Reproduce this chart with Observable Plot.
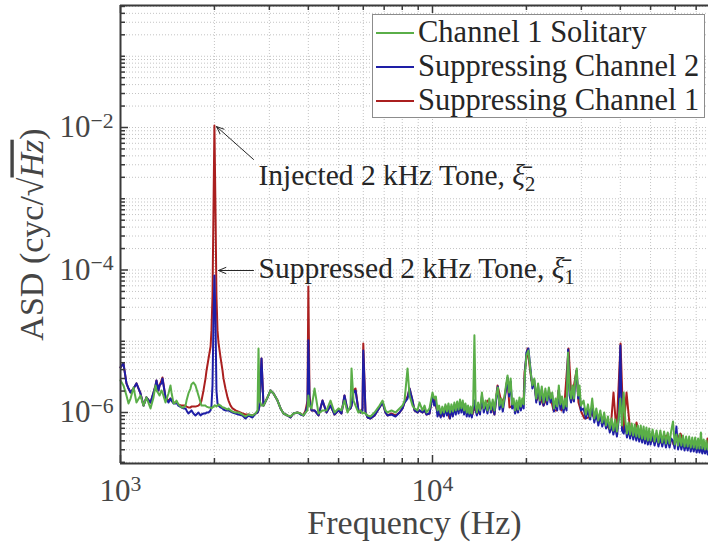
<!DOCTYPE html>
<html><head><meta charset="utf-8">
<script src="https://cdn.jsdelivr.net/npm/d3@7"></script>
<script src="https://cdn.jsdelivr.net/npm/@observablehq/plot@0.6"></script>
<style>
body{margin:0;background:#fff;}
#wrap{position:relative;width:708px;height:544px;overflow:hidden;}
#legend{position:absolute;left:372px;top:14px;width:333px;height:104px;border:1.5px solid #8c8c8c;background:#fff;box-sizing:border-box;font-family:"Liberation Serif","DejaVu Serif",serif;font-size:30.5px;color:#262626;}
.row{position:absolute;left:0;height:34px;display:flex;align-items:center;white-space:nowrap;}
.sw{width:38px;height:2px;margin-left:3px;margin-right:4px;}
</style></head>
<body><div id="wrap"><div id="legend"></div></div>
<script>
// ---------- Frequencies (Hz) ----------
// low band shared by all three traces
const freqLow = [1000,1022,1045,1061,1077,1101,1125,1159,1185,1211,
1248,1276,1295,1304,1323,1334,1353,1363,1394,1425,
1446,1457,1479,1500,1511,1533,1568,1592,1616,1628,
1651,1676,1688,1713,1739,1778,1805,1818,1845,1873,
1887,1915,1944,1957,1972,1986,2000,2016,2030,2046,
2061,2092,2123,2138,2170,2203,2219,2253,2286,2337,
2389,2460,2515,2572,2649,2708,2749,2769,2790,2831,
2873,2960,3026,3093,3186,3258,3331,3430,3507,3585,
3692,3775,3859,3917,3975,4000,4035,4095,4187,4312,
4441,4575,4711,4853,4997,5108,5223,5341,5461,5501,
5583,5666,5790,5877,5965,6000,6100,6190,6330,6520,
6765,6917,7069,7174,7390,7611,7842,8016,8136,8317,
8441,8629,8756,8951,9085,9287,9428,9567,9781];
// dense high band (Channel 1 Solitary and Suppressing Channel 2)
const freqHigh = [10000,10125,10250,10375,10500,10625,10750,10875,11000,11125,
11250,11375,11500,11625,11750,11875,12000,12125,12250,12375,
12500,12625,12750,12875,13000,13125,13250,13375,13500,13625,
13750,13875,14000,14200,14400,14600,14800,15000,15200,15400,
15600,15800,16000,16200,16400,16600,16800,17000,17200,17400,
17600,17800,18000,18200,18400,18600,18800,19000,19200,19400,
19600,19800,20000,20300,20600,20900,21200,21500,21800,22100,
22400,22700,23000,23300,23600,23900,24200,24500,24800,25100,
25400,25700,26000,26300,26600,26900,27200,27500,27800,28100,
28400,28700,29000,29300,29600,29900,30500,31000,31500,32000,
32500,33000,33500,34000,34500,35000,35500,36000,36500,37000,
37500,38000,38500,39000,39500,40000,40500,41000,41500,42000,
42500,43000,43500,44000,44500,45000,45500,46000,46500,47000,
47500,48000,48500,49000,49500,50000,50750,51500,52250,53000,
53750,54500,55250,56000,56750,57500,58250,59000,59750,60500,
61250,62000,62750,63500,64250,65000,65750,66500,67250,68000,
68750,69500,70250,71000,71750,72500,73250,74000,74750,75500,
76250,76670];
// high band for Suppressing Channel 1
const freqRedHigh = [10000,
10150,10300,10530,10770,11090,11340,11590,11940,12200,12480,
12850,13140,13430,13630,13730,13940,14360,14680,15010,15460,
15800,16160,16640,17010,17390,17650,18180,18590,19000,19580,
19720,20160,20460,20760,21230,21540,22020,22690,23200,23710,
24430,24970,25340,25910,26490,27290,27900,28510,28940,29370,
30030,30700,31620,32330,32810,33530,34290,35320,36120,37200,
38030,38880,40060,40950,41870,43110,44090,45070,46420,47460,
48520,49970,51080,52230,53800,55000,56230,57900,58790,59200,
60540,62350,63740,65170,67120,68620,70180,72270,72800,73890,
75540,76100,76670];

// ---------- ASD values (cyc/sqrt(Hz)) ----------
const solitaryLow = [2.82e-6,2.40e-6,1.73e-6,1.34e-6,1.57e-6,2.25e-6,1.38e-6,1.73e-6,1.25e-6,1.63e-6,
1.14e-6,1.63e-6,2.40e-6,2.04e-6,1.85e-6,1.73e-6,2.04e-6,1.91e-6,1.38e-6,1.85e-6,
2.40e-6,1.91e-6,1.34e-6,1.38e-6,1.47e-6,1.30e-6,1.18e-6,1.18e-6,1.25e-6,1.47e-6,
1.85e-6,2.17e-6,2.48e-6,2.64e-6,2.40e-6,1.73e-6,1.38e-6,1.25e-6,1.25e-6,1.25e-6,
1.21e-6,1.18e-6,1.18e-6,1.14e-6,1.18e-6,1.21e-6,1.25e-6,1.25e-6,1.21e-6,1.25e-6,
1.30e-6,1.25e-6,1.18e-6,1.18e-6,1.14e-6,1.10e-6,1.14e-6,1.07e-6,1.03e-6,1.00e-6,
1.00e-6,9.37e-7,8.79e-7,9.37e-7,9.08e-7,9.68e-7,1.07e-6,7.91e-6,1.47e-6,1.25e-6,
1.25e-6,1.63e-6,2.04e-6,1.85e-6,1.47e-6,1.14e-6,9.68e-7,9.08e-7,8.79e-7,9.68e-7,
1.00e-6,9.68e-7,9.08e-7,1.00e-6,1.07e-6,1.73e-6,1.25e-6,1.14e-6,2.17e-6,9.68e-7,
1.07e-6,1.07e-6,1.47e-6,1.00e-6,1.14e-6,1.07e-6,1.47e-6,1.00e-6,1.25e-6,4.16e-6,
1.47e-6,1.25e-6,1.00e-6,1.07e-6,9.68e-7,1.00e-6,9.68e-7,9.08e-7,8.79e-7,1.00e-6,
1.25e-6,1.47e-6,1.07e-6,1.00e-6,1.07e-6,1.00e-6,1.14e-6,1.25e-6,1.47e-6,4.16e-6,
1.73e-6,1.25e-6,1.14e-6,1.07e-6,1.38e-6,1.07e-6,1.25e-6,1.00e-6,1.14e-6];
const solitaryHigh = [1.91e-6,1.57e-6,1.68e-6,1.07e-6,1.25e-6,9.68e-7,1.21e-6,1.00e-6,1.30e-6,1.03e-6,
1.34e-6,1.00e-6,1.30e-6,1.03e-6,1.38e-6,1.07e-6,1.43e-6,1.10e-6,1.52e-6,1.14e-6,
1.47e-6,1.07e-6,1.34e-6,1.00e-6,1.25e-6,9.68e-7,1.21e-6,9.68e-7,1.30e-6,1.21e-5,
1.25e-6,1.00e-6,1.38e-6,1.07e-6,1.91e-6,1.14e-6,1.47e-6,1.07e-6,1.57e-6,1.10e-6,
1.52e-6,1.07e-6,1.73e-6,2.25e-6,1.25e-6,1.57e-6,1.18e-6,1.63e-6,2.40e-6,3.31e-6,
1.91e-6,3.01e-6,1.30e-6,1.57e-6,1.07e-6,1.47e-6,1.10e-6,1.63e-6,1.21e-6,1.57e-6,
1.30e-6,3.65e-6,6.31e-6,7.42e-6,3.89e-6,2.40e-6,3.01e-6,1.57e-6,2.56e-6,1.47e-6,
2.32e-6,1.38e-6,2.17e-6,1.47e-6,2.25e-6,1.57e-6,1.91e-6,1.14e-6,1.57e-6,1.21e-6,
2.40e-6,1.30e-6,1.68e-6,1.14e-6,1.57e-6,1.21e-6,6.95e-6,2.04e-6,1.57e-6,2.40e-6,
1.57e-6,3.01e-6,4.16e-6,1.73e-6,2.40e-6,1.25e-6,1.47e-6,9.37e-7,1.30e-6,8.79e-7,
1.57e-6,8.24e-7,1.14e-6,7.72e-7,1.07e-6,7.24e-7,1.00e-6,6.57e-7,8.79e-7,5.96e-7,
8.24e-7,5.59e-7,7.98e-7,5.41e-7,8.24e-7,1.57e-6,6.57e-7,1.91e-6,7.72e-7,5.07e-7,
7.24e-7,4.91e-7,7.01e-7,4.75e-7,6.78e-7,4.60e-7,6.57e-7,4.46e-7,6.57e-7,4.31e-7,
6.36e-7,4.18e-7,6.16e-7,4.04e-7,5.96e-7,4.04e-7,5.77e-7,3.91e-7,5.59e-7,3.79e-7,
5.59e-7,3.79e-7,5.41e-7,3.67e-7,5.24e-7,3.67e-7,5.59e-7,7.48e-7,3.55e-7,4.91e-7,
3.44e-7,4.91e-7,3.44e-7,4.75e-7,3.33e-7,4.60e-7,3.33e-7,4.60e-7,3.22e-7,4.46e-7,
3.22e-7,4.46e-7,3.12e-7,4.31e-7,3.12e-7,5.24e-7,3.12e-7,4.18e-7,3.02e-7,4.04e-7,
3.02e-7,3.55e-7];

const supp2Low = [4.29e-6,4.89e-6,2.56e-6,2.17e-6,1.91e-6,2.17e-6,2.56e-6,1.85e-6,1.25e-6,1.63e-6,
1.38e-6,1.91e-6,2.40e-6,2.82e-6,2.04e-6,2.40e-6,2.56e-6,3.01e-6,1.63e-6,1.38e-6,
1.57e-6,1.47e-6,1.34e-6,1.34e-6,1.38e-6,1.25e-6,1.18e-6,1.14e-6,1.14e-6,1.07e-6,
9.68e-7,1.03e-6,1.07e-6,9.68e-7,9.08e-7,1.00e-6,9.08e-7,9.37e-7,9.68e-7,9.68e-7,
1.00e-6,1.00e-6,1.07e-6,1.25e-6,2.40e-6,1.96e-5,8.37e-5,1.96e-5,2.04e-6,1.34e-6,
1.25e-6,1.18e-6,1.14e-6,1.10e-6,1.07e-6,1.07e-6,1.07e-6,1.03e-6,1.00e-6,9.68e-7,
9.37e-7,9.08e-7,8.24e-7,9.08e-7,8.51e-7,9.68e-7,1.00e-6,1.07e-6,1.25e-6,5.73e-6,
1.25e-6,1.63e-6,2.04e-6,1.85e-6,1.47e-6,1.14e-6,9.68e-7,9.08e-7,8.51e-7,9.68e-7,
1.00e-6,9.37e-7,9.08e-7,1.00e-6,1.25e-6,1.03e-5,1.47e-6,1.07e-6,1.07e-6,9.08e-7,
1.47e-6,1.00e-6,1.25e-6,9.37e-7,1.07e-6,9.68e-7,1.73e-6,1.07e-6,1.14e-6,1.25e-6,
1.91e-6,2.04e-6,1.07e-6,1.00e-6,1.07e-6,7.42e-6,1.00e-6,8.51e-7,8.24e-7,9.08e-7,
1.18e-6,1.38e-6,1.00e-6,9.08e-7,9.37e-7,8.79e-7,1.00e-6,1.14e-6,1.38e-6,1.57e-6,
2.17e-6,1.47e-6,1.07e-6,1.00e-6,1.07e-6,1.00e-6,1.07e-6,9.37e-7,9.68e-7];
const supp2High = [1.73e-6,1.25e-6,1.47e-6,8.79e-7,1.07e-6,8.51e-7,1.10e-6,8.79e-7,1.18e-6,9.08e-7,
1.21e-6,8.24e-7,1.18e-6,8.79e-7,1.25e-6,9.37e-7,1.30e-6,9.68e-7,1.38e-6,1.00e-6,
1.34e-6,9.37e-7,1.25e-6,8.79e-7,1.14e-6,8.79e-7,1.10e-6,8.51e-7,1.18e-6,1.47e-6,
1.07e-6,9.08e-7,1.21e-6,9.37e-7,1.73e-6,1.00e-6,1.34e-6,9.68e-7,1.43e-6,1.00e-6,
1.38e-6,9.37e-7,1.57e-6,2.32e-6,1.10e-6,1.43e-6,1.03e-6,1.47e-6,2.04e-6,3.10e-6,
1.68e-6,2.73e-6,1.14e-6,1.38e-6,9.68e-7,1.30e-6,1.00e-6,1.43e-6,1.07e-6,1.38e-6,
1.14e-6,3.89e-6,6.95e-6,7.91e-6,4.16e-6,2.17e-6,2.82e-6,1.38e-6,2.40e-6,1.30e-6,
2.10e-6,1.25e-6,1.91e-6,1.30e-6,2.04e-6,1.38e-6,1.73e-6,1.03e-6,1.38e-6,1.07e-6,
2.04e-6,1.10e-6,1.52e-6,1.00e-6,1.30e-6,1.07e-6,7.66e-6,1.73e-6,1.38e-6,2.17e-6,
1.43e-6,2.82e-6,3.89e-6,1.57e-6,2.04e-6,1.07e-6,1.14e-6,8.24e-7,1.07e-6,7.98e-7,
1.25e-6,7.24e-7,9.68e-7,6.57e-7,9.08e-7,6.36e-7,8.24e-7,5.96e-7,7.48e-7,5.24e-7,
6.78e-7,4.91e-7,6.57e-7,4.60e-7,7.72e-7,8.72e-6,5.59e-7,5.07e-7,6.57e-7,4.46e-7,
5.96e-7,4.31e-7,5.96e-7,4.18e-7,5.59e-7,4.04e-7,5.41e-7,3.91e-7,5.41e-7,3.79e-7,
5.24e-7,3.67e-7,5.07e-7,3.55e-7,4.91e-7,3.55e-7,4.75e-7,3.44e-7,4.60e-7,3.33e-7,
4.60e-7,3.33e-7,4.46e-7,3.22e-7,4.31e-7,3.22e-7,4.31e-7,4.04e-7,3.12e-7,6.36e-7,
3.02e-7,4.04e-7,3.02e-7,3.91e-7,2.93e-7,3.79e-7,2.93e-7,3.79e-7,2.83e-7,3.67e-7,
2.83e-7,3.55e-7,2.74e-7,3.44e-7,2.74e-7,3.33e-7,2.66e-7,3.33e-7,2.66e-7,3.22e-7,
2.57e-7,2.93e-7];

const supp1 = [4.29e-6,4.89e-6,2.56e-6,2.17e-6,1.91e-6,2.17e-6,2.56e-6,1.85e-6,1.25e-6,1.63e-6,
1.38e-6,1.91e-6,2.40e-6,2.82e-6,2.04e-6,2.40e-6,2.82e-6,3.10e-6,1.63e-6,1.47e-6,
1.57e-6,1.47e-6,1.38e-6,1.38e-6,1.38e-6,1.30e-6,1.25e-6,1.25e-6,1.25e-6,1.21e-6,
1.18e-6,1.18e-6,1.21e-6,1.21e-6,1.21e-6,1.25e-6,1.34e-6,1.47e-6,2.04e-6,3.01e-6,
3.89e-6,5.73e-6,8.44e-6,1.42e-5,4.39e-5,6.84e-4,1.07e-2,6.84e-4,4.39e-5,1.42e-5,
9.60e-6,5.92e-6,3.89e-6,3.01e-6,2.17e-6,1.63e-6,1.47e-6,1.25e-6,1.14e-6,1.07e-6,
1.03e-6,9.68e-7,9.37e-7,9.37e-7,9.08e-7,9.68e-7,1.00e-6,1.07e-6,1.25e-6,5.73e-6,
1.25e-6,1.63e-6,2.04e-6,1.85e-6,1.47e-6,1.14e-6,9.68e-7,9.08e-7,8.51e-7,9.68e-7,
1.00e-6,9.68e-7,9.08e-7,1.07e-6,1.47e-6,5.87e-5,1.73e-6,1.07e-6,1.07e-6,9.08e-7,
1.47e-6,1.00e-6,1.25e-6,9.37e-7,1.07e-6,9.68e-7,1.73e-6,1.07e-6,1.14e-6,1.25e-6,
2.04e-6,2.17e-6,1.07e-6,1.00e-6,1.14e-6,9.30e-6,1.00e-6,8.51e-7,8.24e-7,9.08e-7,
1.18e-6,1.38e-6,1.00e-6,9.08e-7,9.68e-7,9.08e-7,1.00e-6,1.14e-6,1.38e-6,1.68e-6,
2.17e-6,1.47e-6,1.07e-6,1.00e-6,1.07e-6,1.00e-6,1.07e-6,9.37e-7,9.68e-7,1.73e-6,
1.57e-6,1.14e-6,9.08e-7,9.08e-7,1.21e-6,8.24e-7,1.07e-6,1.14e-6,1.25e-6,1.38e-6,
1.07e-6,9.68e-7,9.37e-7,1.25e-6,1.07e-6,9.68e-7,1.18e-6,1.30e-6,1.47e-6,1.21e-6,
9.37e-7,2.40e-6,1.38e-6,1.63e-6,3.01e-6,1.18e-6,1.25e-6,1.07e-6,1.34e-6,1.30e-6,
3.65e-6,7.91e-6,4.58e-6,2.82e-6,2.40e-6,1.47e-6,1.73e-6,1.25e-6,1.57e-6,1.91e-6,
1.07e-6,1.07e-6,2.04e-6,1.07e-6,1.34e-6,7.91e-6,1.47e-6,2.64e-6,3.89e-6,1.38e-6,
1.00e-6,8.24e-7,8.51e-7,1.00e-6,8.79e-7,8.24e-7,8.24e-7,7.72e-7,6.57e-7,5.59e-7,
1.91e-6,5.24e-7,9.30e-6,5.59e-7,1.91e-6,4.91e-7,4.60e-7,7.24e-7,4.31e-7,4.60e-7,
4.18e-7,4.60e-7,3.91e-7,4.60e-7,3.79e-7,4.31e-7,4.75e-7,4.04e-7,4.04e-7,3.55e-7,
4.04e-7,5.07e-7,3.79e-7,3.22e-7,3.55e-7,3.12e-7,3.44e-7,3.02e-7,3.22e-7,3.22e-7,
2.93e-7,4.31e-7,2.93e-7];

// Legend / series
const seriesNames = ["Channel 1 Solitary", "Suppressing Channel 2", "Suppressing Channel 1"];
const seriesColors = ["#5aae48", "#1e1ea6", "#aa1f1f"];

// Axis ticks
const xDomain = [1000, 76670];
const yDomain = [1.924e-7, 0.5156];
const xMajor = [1000, 10000];
const xMinor = [2000,3000,4000,5000,6000,7000,8000,9000,20000,30000,40000,50000,60000,70000];
const yMajor = [1e-6, 1e-4, 1e-2];
const decades = [-7,-6,-5,-4,-3,-2,-1];
const mults = [1,2,3,4,5,6,7,8,9];

// Annotations
const noteText = ["Injected 2 kHz Tone, ξ\u0304_2", "Suppressed 2 kHz Tone, ξ\u0304_1"];
const noteX = [2769, 2769];
const noteY = [2.12e-3, 1.05e-4];
const arrowFromX = [2669, 2669];
const arrowFromY = [3.56e-3, 9.84e-5];
const arrowToX = [2031, 2061];
const arrowToY = [1.03e-2, 9.84e-5];

const xLabel = "Frequency (Hz)";
const yLabel = "ASD (cyc/√Hz)";

// ---- build ----
const yGrid = [];
for (const k of decades) for (const m of mults) { const v = m * Math.pow(10, k); if (v >= yDomain[0] && v <= yDomain[1]) yGrid.push(v); }
const yMinor = yGrid.filter(v => !yMajor.some(M => Math.abs(M - v) / M < 1e-6));
const xGrid = xMinor.concat(xMajor);

const traces = {
  "Channel 1 Solitary": {f: freqLow.concat(freqHigh), v: solitaryLow.concat(solitaryHigh)},
  "Suppressing Channel 2": {f: freqLow.concat(freqHigh), v: supp2Low.concat(supp2High)},
  "Suppressing Channel 1": {f: freqLow.concat(freqRedHigh), v: supp1}
};
const drawOrder = ["Suppressing Channel 1", "Suppressing Channel 2", "Channel 1 Solitary"];
const lineMarks = drawOrder.map(name => {
  const tr = traces[name];
  const rows = tr.f.map((f, i) => ({f, v: tr.v[i]}));
  return Plot.line(rows, {x: "f", y: "v", stroke: seriesColors[seriesNames.indexOf(name)], strokeWidth: 2, strokeLinejoin: "round"});
});

const notes = noteText.map((t, i) => ({t, x: noteX[i], y: noteY[i]}));
const arrows = arrowFromX.map((x, i) => ({x1: x, y1: arrowFromY[i], x2: arrowToX[i], y2: arrowToY[i]}));

const axisColor = "#3a3a3a";
const textColor = "#454545";
const PW = 708 - 120, PH = 544 - 5 - 81;
const expFmt = d => "10^" + String(Math.round(Math.log10(d))).replace("-", "\u2212");

const chart = Plot.plot({
  width: 708, height: 544,
  marginLeft: 120, marginRight: 0, marginTop: 5, marginBottom: 81,
  style: {fontFamily: '"Liberation Serif","DejaVu Serif",serif', color: textColor, background: "#fff"},
  x: {type: "log", domain: xDomain},
  y: {type: "log", domain: yDomain},
  marks: [
    Plot.ruleX(xGrid, {x: d => d, stroke: "#c4c4c4", strokeWidth: 1, strokeDasharray: "1,2"}),
    Plot.ruleY(yGrid, {y: d => d, stroke: "#c4c4c4", strokeWidth: 1, strokeDasharray: "1,2"}),
    ...lineMarks,
    Plot.arrow(arrows, {x1: "x1", y1: "y1", x2: "x2", y2: "y2", stroke: "#262626", strokeWidth: 1, headLength: 12, headAngle: 45}),
    Plot.text(notes, {x: "x", y: "y", text: "t", textAnchor: "start", lineAnchor: "middle", fontSize: 29.5, fill: "#262626"}),
    Plot.ruleX([xDomain[0]], {x: d => d, stroke: axisColor, strokeWidth: 2}),
    Plot.ruleY([yDomain[0]], {y: d => d, stroke: axisColor, strokeWidth: 2}),
    Plot.ruleY([yDomain[1]], {y: d => d, stroke: axisColor, strokeWidth: 2}),
    Plot.tickX(xMajor, {x: d => d, insetTop: PH - 8, stroke: axisColor, strokeWidth: 1.5}),
    Plot.tickX(xMinor, {x: d => d, insetTop: PH - 5, stroke: axisColor, strokeWidth: 1.5}),
    Plot.tickX(xMajor, {x: d => d, insetBottom: PH - 8, stroke: axisColor, strokeWidth: 1.5}),
    Plot.tickX(xMinor, {x: d => d, insetBottom: PH - 5, stroke: axisColor, strokeWidth: 1.5}),
    Plot.tickY(yMajor, {y: d => d, insetRight: PW - 8, stroke: axisColor, strokeWidth: 1.5}),
    Plot.tickY(yMinor, {y: d => d, insetRight: PW - 5, stroke: axisColor, strokeWidth: 1.5}),
    Plot.axisX(xMajor, {tickSize: 0, tickPadding: 15, tickFormat: expFmt, fontSize: 31, label: null}),
    Plot.axisY(yMajor, {tickSize: 0, tickPadding: 7, tickFormat: expFmt, fontSize: 31, label: null}),
    Plot.text([xLabel], {text: d => d, frameAnchor: "bottom", textAnchor: "middle", lineAnchor: "middle", dy: 60, fontSize: 34, fill: textColor}),
    Plot.text([yLabel], {text: d => d, frameAnchor: "left", textAnchor: "middle", lineAnchor: "middle", rotate: -90, dx: -88, fontSize: 34, fill: textColor})
  ]
});

// rich text: superscripts, subscripts, overline
d3.select(chart).selectAll("text").each(function() {
  const t = d3.select(this);
  if (t.selectAll("tspan").size() > 0) return;
  const s = t.text();
  let m;
  if ((m = s.match(/^10\^(.+)$/))) {
    t.text("");
    t.append("tspan").text("10");
    t.append("tspan").attr("dy", "-0.45em").attr("font-size", "0.7em").text(m[1]);
  } else if ((m = s.match(/^(.*)_(\d)$/))) {
    t.text("");
    t.append("tspan").text(m[1].slice(0, -2));
    t.append("tspan").attr("font-style", "italic").text(m[1].slice(-2));
    t.append("tspan").attr("dy", "0.3em").attr("font-size", "0.7em").text(m[2]);
  } else if (s === yLabel) {
    t.text("");
    t.append("tspan").text("ASD (cyc/√");
    t.append("tspan").attr("font-style", "italic").style("text-decoration", "overline").text("Hz");
    t.append("tspan").text(")");
  }
});

document.getElementById("wrap").prepend(chart);

// legend
const leg = d3.select("#legend");
const rowCenters = [19, 53, 87];
seriesNames.forEach((n, i) => {
  const r = leg.append("div").attr("class", "row").style("top", (rowCenters[i] - 17 - 1.5) + "px");
  r.append("div").attr("class", "sw").style("background", seriesColors[i]);
  r.append("span").text(n);
});
</script></body></html>
